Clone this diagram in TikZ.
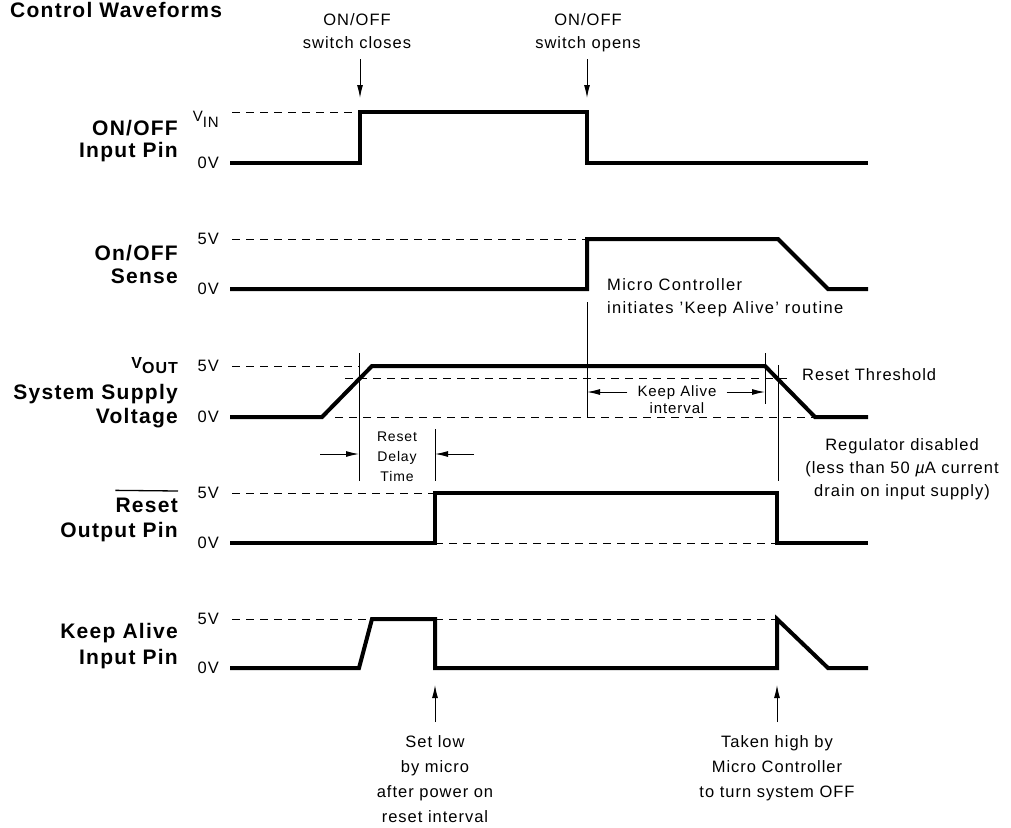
\documentclass[tikz,border=0pt]{standalone}
\usepackage{fontspec}
\setmainfont{Liberation Sans}[LetterSpace=6]
\usetikzlibrary{arrows.meta}

\begin{document}
\begin{tikzpicture}[x=1pt, y=-1pt,
  every node/.style={inner sep=0pt, font=\fontsize{16.5}{23}\selectfont},
  wave/.style={line width=4pt, line join=miter},
  guide/.style={line width=1pt, dash pattern=on 8pt off 6pt},
  tick/.style={line width=1pt},
  arr/.style={line width=1pt, -{Latex[length=13pt,width=6pt]}},
  lbl/.style={anchor=base east, font=\bfseries\fontsize{21}{24}\selectfont},
  lvl/.style={anchor=east},
  note/.style={anchor=north, align=center}]
  \useasboundingbox (0,0) rectangle (1011,827);
  % titulo
  \node[lbl, anchor=base west] (title) at (10,17) {Control Waveforms};
  % rotulos de las senales
  \foreach \y/\t in {135/{ON/OFF}, 157/{Input Pin}, 260/{On/OFF}, 283/Sense,
      399/{System Supply}, 423/Voltage, 512/Reset, 537/{Output Pin},
      638/{Keep Alive}, 664/{Input Pin}}
    \node[lbl] (sig-\y) at (178,\y) {\t};
  \node[lbl, font=\bfseries\fontsize{16}{18}\selectfont] (vout) at (178,368) {V\raisebox{-5pt}{OUT}};
  \draw[line width=1.3pt] (sig-512.north west) ++(0,-7) -- (sig-512.north east |- 0,491);
  % niveles
  \foreach \y/\t in {163/0V, 239/5V, 289/0V, 366/5V, 417/0V, 493/5V, 543/0V, 619/5V, 668/0V}
    \node[lvl] (lvl-\y) at (219,\y) {\t};
  \node[anchor=base east] (vin) at (219,121) {\fontsize{15}{15}\selectfont V\raisebox{-6pt}{IN}};
  % lineas de referencia
  \draw[guide] (232,112) -- (358,112);
  \draw[guide] (232,239) -- (587,239);
  \draw[guide] (232,366) -- (360,366);
  \draw[guide] (345,378) -- (792,378);
  \draw[guide] (335,417) -- (815,417);
  \draw[guide] (232,493) -- (435,493);
  \draw[guide] (435,543) -- (777,543);
  \draw[guide] (232,619) -- (372,619);
  \draw[guide] (435,619) -- (777,619);
  % formas de onda
  \draw[wave] (230,163) -- (360,163) -- (360,112) -- (587,112) -- (587,163) -- (868,163);
  \draw[wave] (230,289) -- (587,289) -- (587,239) -- (778,239) -- (828,289) -- (868,289);
  \draw[wave] (230,417) -- (322,417) -- (372,366) -- (765,366) -- (815,417) -- (868,417);
  \draw[wave] (230,543) -- (435,543) -- (435,493) -- (777,493) -- (777,543) -- (868,543);
  \draw[wave] (230,668) -- (359,668) -- (372,619) -- (435,619) -- (435,668) -- (777,668)
    -- (777,619) -- (828,668) -- (868,668);
  % interruptor
  \node[note] (close) at (357,13) {ON/OFF\\switch closes};
  \node[note] (open) at (588,13) {ON/OFF\\switch opens};
  \coordinate (closeA) at (360,59); \coordinate (closeB) at (360,98);
  \coordinate (openA) at (587,59); \coordinate (openB) at (587,98);
  \draw[arr] (closeA) -- (closeB);
  \draw[arr] (openA) -- (openB);
  % keep alive
  \node[anchor=north west, align=left, font=\addfontfeature{LetterSpace=8}\fontsize{16.5}{23}\selectfont] (micro) at (607,278) {Micro Controller\\initiates 'Keep Alive' routine};
  \coordinate (kaL) at (587,302); \coordinate (kaLb) at (587,417);
  \coordinate (kaR) at (765,353); \coordinate (kaRb) at (765,404);
  \draw[tick] (kaL) -- (kaLb);
  \draw[tick] (kaR) -- (kaRb);
  \node[note, font=\fontsize{15}{17}\selectfont] (kaint) at (677,385) {Keep Alive\\interval};
  \draw[arr] (kaint.west |- 0,392) ++(-10,0) -- (kaL |- 0,392);
  \draw[arr] (kaint.east |- 0,392) ++(10,0) -- (kaR |- 0,392);
  \node[anchor=base west] (thr) at (802,380) {Reset Threshold};
  % regulador
  \coordinate (offA) at (778,365); \coordinate (offB) at (778,481);
  \draw[tick] (offA) -- (offB);
  \node[note] (reg) at (902,438) {Regulator disabled\\(less than 50 {\itshape µ}A current\\drain on input supply)};
  % retardo de reset
  \coordinate (rdL) at (359,353); \coordinate (rdLb) at (359,481);
  \coordinate (rdR) at (435,429); \coordinate (rdRb) at (435,481);
  \draw[tick] (rdL) -- (rdLb);
  \draw[tick] (rdR) -- (rdRb);
  \node[note, font=\fontsize{14}{20}\selectfont] (rdly) at (397,432) {Reset\\Delay\\Time};
  \draw[arr] (320,454) -- (rdL |- 0,454);
  \draw[arr] (474,454) -- (rdR |- 0,454);
  % notas de abajo
  \coordinate (lowA) at (435,722); \coordinate (lowB) at (435,685);
  \coordinate (highA) at (777,722); \coordinate (highB) at (777,685);
  \draw[arr] (lowA) -- (lowB);
  \draw[arr] (highA) -- (highB);
  \node[note, font=\fontsize{16.5}{25}\selectfont] (setlow) at (435,735) {Set low\\by micro\\after power on\\reset interval};
  \node[note, font=\fontsize{16.5}{25}\selectfont] (takehi) at (777,735) {Taken high by\\Micro Controller\\to turn system OFF};
\end{tikzpicture}
\end{document}
